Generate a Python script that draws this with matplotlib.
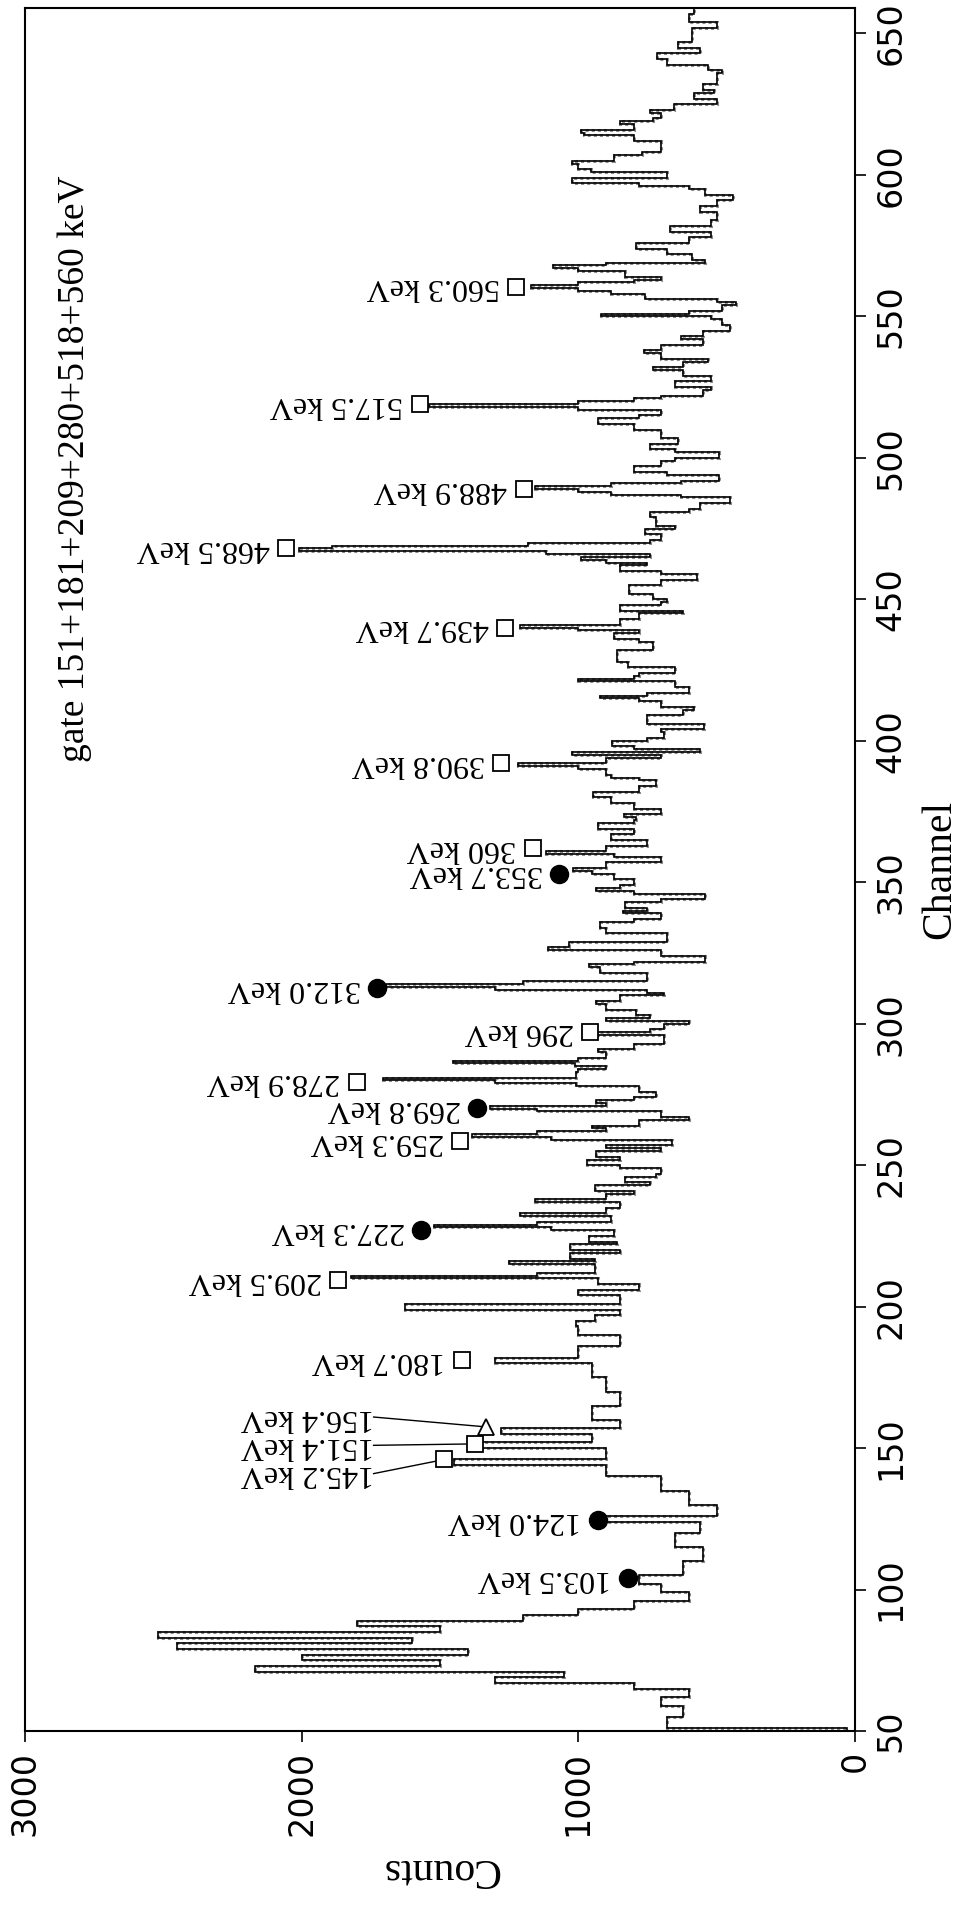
import numpy as np
import matplotlib
matplotlib.use("Agg")
import matplotlib.pyplot as plt

# spectrum: bin start channel, counts (last edge closes the histogram)
chan = [50, 51, 55, 59, 62, 65, 67, 69, 71, 73, 75, 77, 79, 81, 83, 85, 87, 89, 91, 93,
        96, 99, 102, 105, 110, 115, 120, 124, 126, 130, 135, 140, 144, 146, 150, 152, 155, 157, 160, 165,
        170, 175, 180, 182, 186, 190, 193, 195, 197, 199, 201, 204, 206, 208, 210, 211, 212, 215, 216, 217,
        219, 220, 222, 223, 225, 227, 228, 229, 230, 232, 233, 235, 237, 238, 240, 241, 243, 244, 246, 247,
        249, 250, 252, 253, 255, 256, 257, 259, 260, 261, 262, 263, 264, 266, 267, 269, 270, 271, 272, 273,
        274, 276, 278, 279, 280, 281, 283, 284, 285, 286, 287, 288, 290, 291, 293, 294, 296, 297, 298, 300,
        301, 302, 303, 305, 307, 308, 310, 311, 312, 313, 314, 315, 316, 318, 320, 321, 322, 324, 326, 327,
        329, 331, 332, 334, 336, 337, 339, 340, 341, 343, 344, 346, 347, 348, 349, 351, 353, 354, 355, 357,
        359, 360, 361, 363, 365, 367, 369, 371, 372, 373, 374, 376, 378, 380, 382, 384, 386, 387, 388, 390,
        391, 392, 394, 395, 396, 397, 398, 400, 401, 403, 404, 406, 407, 409, 411, 412, 414, 415, 416, 417,
        419, 421, 422, 423, 424, 426, 428, 430, 432, 433, 435, 436, 438, 439, 440, 441, 443, 445, 446, 448,
        449, 450, 452, 454, 455, 457, 459, 460, 462, 463, 464, 465, 466, 467, 468, 469, 470, 471, 473, 475,
        476, 477, 478, 479, 481, 482, 484, 486, 487, 488, 489, 490, 491, 492, 494, 495, 497, 499, 500, 502,
        503, 505, 507, 508, 510, 512, 514, 515, 516, 517, 518, 519, 520, 521, 522, 524, 525, 527, 528, 529,
        531, 532, 534, 535, 537, 538, 540, 542, 543, 545, 547, 549, 550, 551, 552, 554, 555, 556, 558, 559,
        560, 561, 562, 563, 564, 566, 567, 568, 569, 570, 572, 574, 576, 578, 580, 582, 584, 587, 589, 591,
        593, 595, 596, 597, 599, 601, 602, 604, 605, 607, 608, 610, 612, 614, 615, 616, 618, 619, 620, 622,
        623, 625, 627, 629, 630, 632, 634, 636, 637, 639, 641, 643, 645, 647, 649, 652, 654, 657, 660, 662]
counts = [30, 680, 620, 700, 600, 800, 1300, 1050, 2170, 1500, 2000, 1400, 2450, 1600, 2520, 1500, 1800, 1200, 1000, 800,
          600, 700, 780, 620, 550, 650, 560, 900, 500, 600, 700, 900, 1450, 900, 1350, 950, 1280, 850, 950, 850,
          900, 950, 1300, 1000, 850, 1000, 1010, 940, 850, 1626, 850, 1000, 780, 930, 1820, 1150, 940, 1252, 940, 1030,
          850, 1030, 860, 960, 870, 1100, 1520, 1150, 880, 1210, 900, 850, 1158, 900, 800, 940, 740, 830, 720, 700,
          850, 970, 850, 935, 700, 900, 660, 1100, 1386, 1150, 900, 950, 780, 600, 700, 1150, 1318, 900, 935, 800,
          720, 780, 1010, 1300, 1706, 1010, 1000, 900, 1012, 1452, 1000, 900, 930, 800, 690, 690, 950, 740, 690, 600,
          900, 740, 790, 900, 935, 850, 690, 750, 1300, 1694, 1200, 750, 750, 920, 960, 800, 540, 700, 1111, 1035,
          680, 680, 900, 920, 800, 700, 840, 750, 830, 700, 540, 800, 937, 850, 800, 870, 950, 1020, 900, 700,
          870, 1118, 900, 750, 880, 800, 930, 800, 790, 835, 700, 800, 880, 945, 780, 720, 780, 880, 900, 1000,
          1218, 900, 700, 1024, 560, 800, 877, 750, 690, 700, 547, 750, 750, 620, 580, 700, 780, 920, 750, 600,
          650, 1000, 800, 780, 650, 820, 860, 860, 730, 730, 780, 870, 780, 1000, 1211, 850, 780, 620, 850, 700,
          680, 730, 815, 815, 700, 570, 700, 850, 750, 900, 990, 742, 1116, 2009, 1890, 1180, 742, 700, 760, 650,
          720, 720, 720, 740, 600, 560, 450, 630, 880, 1000, 1158, 880, 630, 490, 680, 800, 700, 650, 490, 650,
          742, 640, 700, 700, 800, 930, 780, 700, 700, 1000, 1540, 1000, 800, 700, 550, 520, 650, 520, 520, 620,
          730, 620, 530, 700, 763, 700, 550, 630, 550, 450, 480, 520, 917, 600, 480, 430, 500, 760, 880, 1000,
          1171, 1000, 800, 700, 830, 1000, 1090, 900, 540, 590, 680, 790, 600, 520, 670, 520, 500, 560, 500, 440,
          540, 600, 780, 1024, 680, 955, 1000, 1024, 870, 770, 700, 700, 800, 980, 990, 800, 850, 730, 700, 742,
          655, 500, 580, 510, 550, 500, 500, 480, 530, 680, 716, 560, 640, 590, 590, 500, 600, 583, 580]

# peak labels: text, channel, counts of the marker, marker kind
peak_text = ["103.5 keV", "124.0 keV", "180.7 keV", "209.5 keV", "227.3 keV", "259.3 keV",
             "269.8 keV", "278.9 keV", "296 keV", "312.0 keV", "353.7 keV", "360 keV",
             "390.8 keV", "439.7 keV", "468.5 keV", "488.9 keV", "517.5 keV", "560.3 keV"]
peak_chan = [104, 124.5, 181, 209.4, 227.1, 258.5, 270.1, 279.5, 297.2, 312.5, 353.1, 362,
             392, 440, 468, 489, 519, 560.5]
peak_cnt = [820, 930, 1420, 1868, 1567, 1426, 1365, 1800, 956, 1727, 1068, 1165,
            1278, 1264, 2055, 1198, 1572, 1224]
peak_mark = ["o", "o", "s", "s", "o", "s", "o", "s", "s", "o", "o", "s",
             "s", "s", "s", "s", "s", "s"]

# the crowded 145-157 group, labels pulled off to the side
group_text = ["145.2 keV", "151.4 keV", "156.4 keV"]
group_chan = [146, 151.5, 157.5]
group_cnt = [1484, 1375, 1332]
group_mark = ["s", "s", "^"]
group_label_chan = [141, 151, 161]
group_label_cnt = [1740, 1740, 1740]

gate_text = "gate 151+181+209+280+518+560 keV"

serif = ["Liberation Serif", "DejaVu Serif"]
narrow = ["Liberation Sans Narrow", "DejaVu Sans"]

fig = plt.figure(figsize=(9.67, 19.09), dpi=100)
ax = fig.add_axes([0.026, 0.0932, 0.858, 0.9026])

edges = np.array(chan, dtype=float)
vals = np.array(counts, dtype=float)
# grey speckled under-layer, then the black histogram outline
ax.stairs(vals, edges, orientation="horizontal", color="0.55", lw=2.2,
          linestyle=(0, (1, 1)), zorder=2)
ax.stairs(vals, edges, orientation="horizontal", color="black", lw=1.2, zorder=3)

ax.set_xlim(3000, 0)
ax.set_ylim(50, 659)

for t, c, n, m in zip(peak_text, peak_chan, peak_cnt, peak_mark):
    if m == "o":
        ax.plot(n, c, "o", ms=13, mfc="black", mec="black", zorder=5)
    else:
        ax.plot(n, c, m, ms=12, mfc="white", mec="black", mew=1.3, zorder=5)
    ax.annotate(t, (n, c), xytext=(-12, 0), textcoords="offset points",
                rotation=180, ha="left", va="center", fontsize=23,
                family=serif, rotation_mode="anchor")

for t, c, n, m, lc, ln in zip(group_text, group_chan, group_cnt, group_mark,
                              group_label_chan, group_label_cnt):
    ax.plot(n, c, m, ms=11, mfc="white", mec="black", mew=1.3, zorder=5)
    ax.plot([ln, n], [lc, c], color="black", lw=1.0, zorder=4)
    ax.text(ln, lc, t, rotation=180, ha="left", va="center", fontsize=23,
            family=serif, rotation_mode="anchor")

ax.text(2820, 496, gate_text, rotation=90, ha="center", va="center",
        fontsize=27, family=serif)

# channel axis on the right, counts axis at the bottom
ax.yaxis.tick_right()
ax.yaxis.set_label_position("right")
ax.set_yticks(np.arange(50, 651, 50))
ax.set_xticks([3000, 2000, 1000, 0])
ax.tick_params(axis="y", direction="out", length=8, width=1.2, pad=6,
               labelsize=24, labelrotation=90)
ax.tick_params(axis="x", direction="out", length=8, width=1.2, pad=6,
               labelsize=24, labelrotation=90)
for lab in ax.get_yticklabels():
    lab.set_family(narrow)
    lab.set_va("center")
for lab in ax.get_xticklabels():
    lab.set_family(narrow)
    lab.set_ha("center")
ax.set_ylabel("Channel", fontsize=30, family=serif, rotation=90, labelpad=10)
ax.set_xlabel("Counts", fontsize=30, family=serif, rotation=180, labelpad=10)
for s in ax.spines.values():
    s.set_linewidth(1.5)

fig.savefig("out.png", dpi=100)
